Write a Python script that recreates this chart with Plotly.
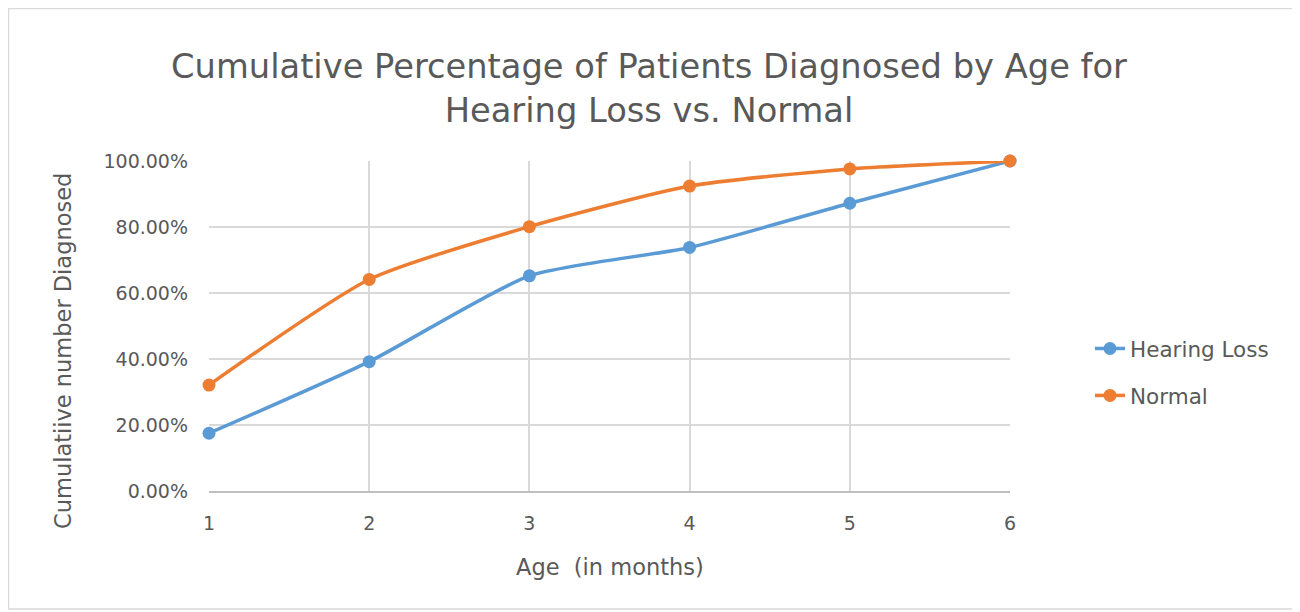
import plotly.graph_objects as go

ages = [1, 2, 3, 4, 5, 6]
hearing_loss = [0.175, 0.392, 0.652, 0.738, 0.872, 1.0]
normal = [0.321, 0.641, 0.801, 0.924, 0.976, 1.0]

series_names = ["Hearing Loss", "Normal"]
colors = ["#5B9BD5", "#ED7D31"]

# page body has an 8px margin, so figure coords = screenshot coords - 8
W, H = 1292, 604
L, R, T, B = 201, 1002, 153, 483


def px(xp):
    return (xp - L) / (R - L)


def py(yp):
    return (B - yp) / (B - T)


fig = go.Figure()
for name, vals, col in zip(series_names, [hearing_loss, normal], colors):
    fig.add_trace(go.Scatter(
        x=ages, y=vals, name=name, mode="lines+markers",
        line=dict(color=col, width=3.5, shape="spline", smoothing=0.6),
        marker=dict(color=col, size=13),
        legendgroup=name, cliponaxis=False,
    ))

font_family = "DejaVu Sans, sans-serif"
gray = "#595959"

fig.update_layout(
    width=W, height=H,
    margin=dict(l=L, r=W - R, t=T, b=H - B, autoexpand=False),
    paper_bgcolor="white", plot_bgcolor="white",
    title=dict(
        text="Cumulative Percentage of Patients Diagnosed by Age for<br>Hearing Loss vs. Normal",
        x=641 / W, xref="container", xanchor="center",
        y=(H - 70) / H, yanchor="middle",
        font=dict(family=font_family, size=33.7, color=gray),
    ),
    font=dict(family=font_family, color=gray),
    showlegend=True,
    legend=dict(
        x=px(1082), xanchor="left",
        y=py(364), yanchor="middle",
        font=dict(size=21.5, color=gray),
        tracegroupgap=16, traceorder="grouped",
        bgcolor="rgba(0,0,0,0)",
    ),
    annotations=[
        dict(text="Age  (in months)", xref="paper", yref="paper",
             x=px(602), y=py(559), xanchor="center", yanchor="middle",
             showarrow=False, font=dict(size=22.5, color=gray)),
        dict(text="Cumulatiive number Diagnosed", xref="paper", yref="paper",
             x=px(55), y=py(343), xanchor="center", yanchor="middle",
             textangle=-90, showarrow=False, font=dict(size=22.5, color=gray)),
    ],
)
fig.update_xaxes(
    range=[1, 6], tickvals=ages, ticktext=[str(a) for a in ages],
    showgrid=True, gridcolor="#D9D9D9", gridwidth=1.5,
    showline=True, linecolor="#BFBFBF", linewidth=1.5,
    zeroline=False, ticks="", tickfont=dict(size=19, color=gray),
    ticklabelstandoff=14,
)
fig.update_yaxes(
    range=[0, 1], tickvals=[0, 0.2, 0.4, 0.6, 0.8, 1.0], tickformat=".2%",
    showgrid=True, gridcolor="#D9D9D9", gridwidth=1.5,
    showline=False, zeroline=False, ticks="",
    tickfont=dict(size=19, color=gray),
    ticklabelstandoff=20,
)

fig.add_shape(
    type="rect", xref="paper", yref="paper",
    x0=px(0.5), x1=px(1289), y0=py(601), y1=py(0.5),
    line=dict(color="#D9D9D9", width=1.5), fillcolor="rgba(0,0,0,0)", layer="below",
)

fig.write_html("out.html")
